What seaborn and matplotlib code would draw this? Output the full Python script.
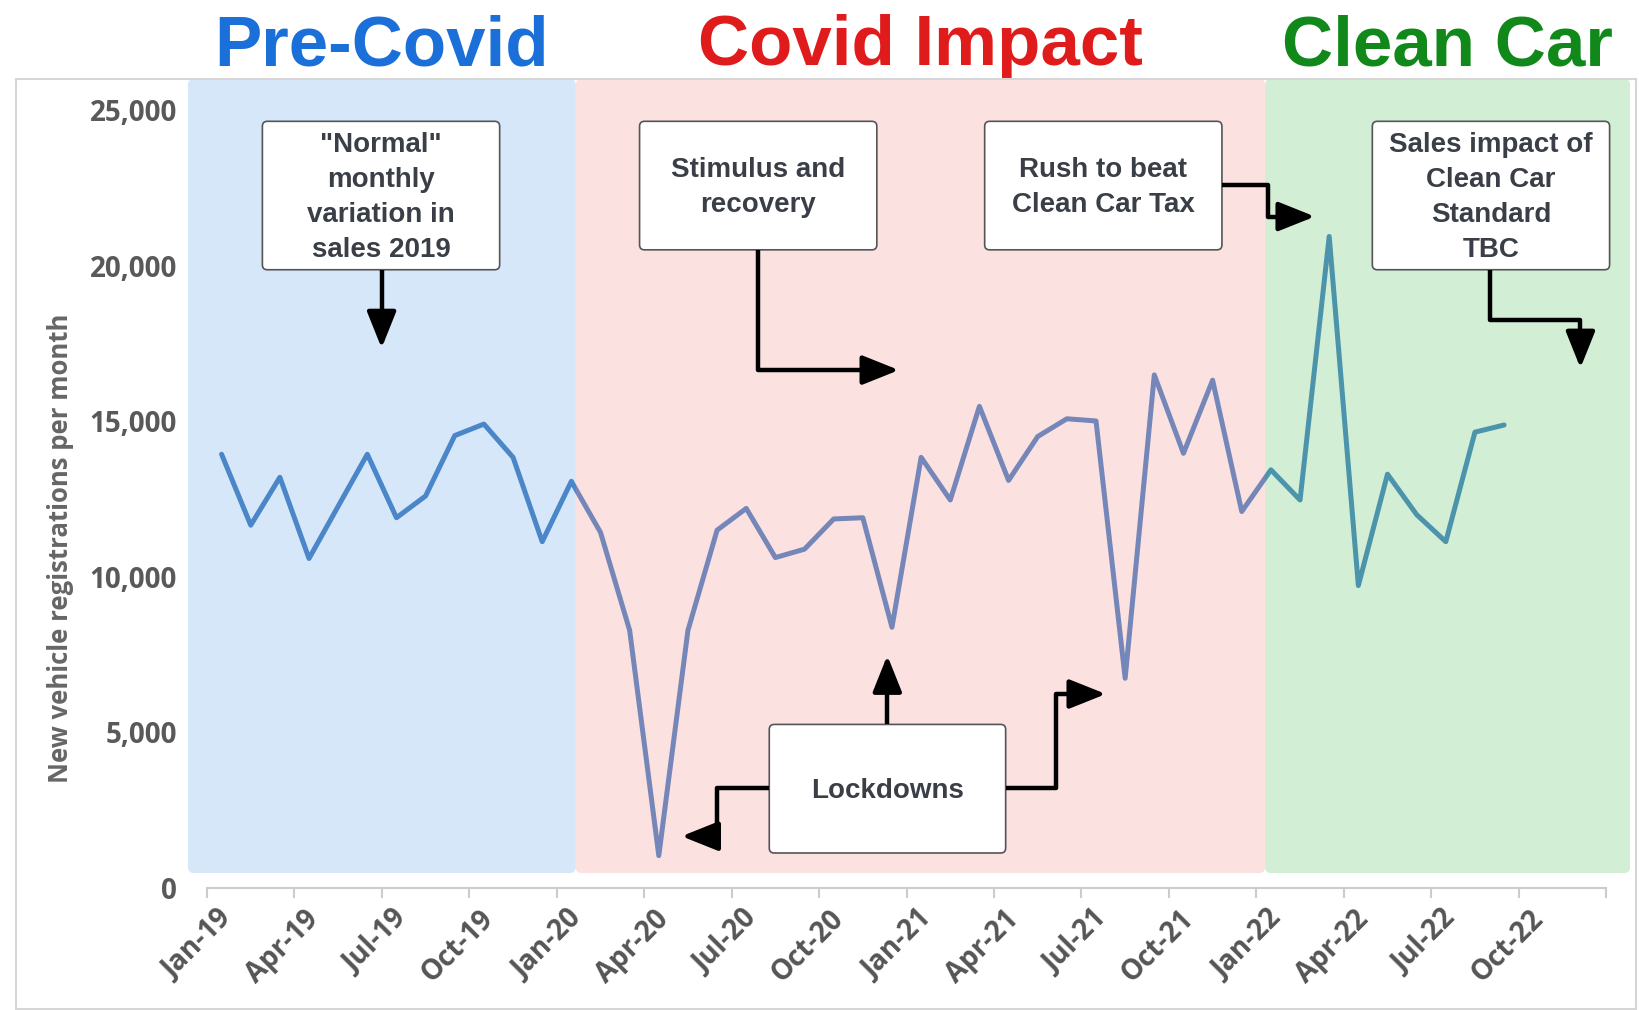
import numpy as np
import pandas as pd
import matplotlib.pyplot as plt
import matplotlib.transforms as mtransforms
from matplotlib.patches import FancyBboxPatch, FancyArrowPatch, Rectangle, ArrowStyle
from matplotlib.path import Path
import seaborn as sns

# monthly new vehicle registrations, Jan-19 .. Sep-22
months = pd.date_range("2019-01-01", periods=45, freq="MS")
registrations = [13940, 11660, 13200, 10590, 12270, 13940, 11900, 12600, 14540, 14910, 13840, 11130,
                 13070, 11430, 8280, 1040, 8280, 11500, 12200, 10620, 10890, 11860, 11900, 8380,
                 13840, 12470, 15480, 13100, 14510, 15080, 15010, 6740, 16490, 13970, 16320, 12100,
                 13440, 12470, 20940, 9720, 13300, 12000, 11130, 14650, 14880]
tick_labels = ["Jan-19", "Apr-19", "Jul-19", "Oct-19", "Jan-20", "Apr-20", "Jul-20", "Oct-20",
               "Jan-21", "Apr-21", "Jul-21", "Oct-21", "Jan-22", "Apr-22", "Jul-22", "Oct-22", ""]
y_ticks = [0, 5000, 10000, 15000, 20000, 25000]
periods = ["Pre-Covid", "Covid Impact", "Clean Car"]
notes = ['"Normal"\nmonthly\nvariation in\nsales 2019',
         "Stimulus and\nrecovery",
         "Rush to beat\nClean Car Tax",
         "Sales impact of\nClean Car\nStandard\nTBC",
         "Lockdowns"]

# layout (month units from Jan-19 tick, value units)
period_edges = [-0.652, 12.65, 36.3, 48.82]
period_fill = [("#d6e7f9", 1.0, 0), ("#f78b8b", 0.25, 3), ("#4fbf5b", 0.25, 3)]
title_colors = ["#1b6fd8", "#e01b1b", "#11891a"]
note_boxes = [(1.90, 10.04, 19870, 24640), (14.84, 22.98, 20510, 24640),
              (26.68, 34.82, 20510, 24640), (39.98, 48.12, 19870, 24640),
              (19.29, 27.40, 1125, 5257)]
arrow_paths = [
    [(5.99, 19870), (5.99, 17350)],
    [(18.90, 20510), (18.90, 16645), (23.74, 16645)],
    [(34.82, 22590), (36.40, 22590), (36.40, 21580), (38.01, 21580)],
    [(44.03, 19870), (44.03, 18255), (47.12, 18255), (47.12, 16710)],
    [(23.34, 5257), (23.34, 7474)],
    [(19.29, 3207), (17.50, 3207), (17.50, 1664), (16.28, 1664)],
    [(27.40, 3207), (29.12, 3207), (29.12, 6234), (30.84, 6234)],
]

df = pd.DataFrame({
    "month": months,
    "pos": np.arange(len(months)) + 0.5,
    "registrations": registrations,
})

sns.set_theme(style="white")
plt.rcParams["font.family"] = ["Liberation Sans", "DejaVu Sans"]

W, H = 1639, 1010
fig = plt.figure(figsize=(W / 100, H / 100), dpi=100)
ax = fig.add_axes([188 / W, 1 - 888 / H, 1442 / W, 809 / H])

sns.lineplot(data=df, x="pos", y="registrations", color="#4a86c8", linewidth=3.6,
             ax=ax, zorder=2)

ax.set_xlim(period_edges[0], period_edges[-1])
ax.set_ylim(0, 26000)
aspect = (29.15 / 1) / (155.6 / 5000)

# shaded period panels
for i, (fc, alpha, z) in enumerate(period_fill):
    x0, x1 = period_edges[i], period_edges[i + 1]
    ax.add_patch(FancyBboxPatch((x0, 480), x1 - x0, 26000 - 480,
                                boxstyle="round,pad=0,rounding_size=0.2",
                                mutation_aspect=aspect, facecolor=fc, alpha=alpha,
                                lw=0, zorder=z))

# titles above each period
blend = mtransforms.blended_transform_factory(ax.transData, fig.transFigure)
for i, name in enumerate(periods):
    xc = (period_edges[i] + period_edges[i + 1]) / 2
    ax.text(xc, 1 - 65 / H, name, transform=blend, ha="center", va="baseline",
            fontsize=51, fontweight="bold", color=title_colors[i])

# note boxes
for (x0, x1, y0, y1), txt in zip(note_boxes, notes):
    ax.add_patch(FancyBboxPatch((x0, y0), x1 - x0, y1 - y0,
                                boxstyle="round,pad=0,rounding_size=0.17",
                                mutation_aspect=aspect, facecolor="white",
                                edgecolor="#555555", lw=1.2, zorder=5))
    ax.text((x0 + x1) / 2, (y0 + y1) / 2 - 60, txt, ha="center", va="center",
            fontsize=20, fontweight="bold", color="#3a3f47", linespacing=1.45, zorder=6)

# elbow arrows
style = ArrowStyle("-|>", head_length=1.5, head_width=0.6)
for pts in arrow_paths:
    codes = [Path.MOVETO] + [Path.LINETO] * (len(pts) - 1)
    arr = FancyArrowPatch(path=Path(pts, codes), arrowstyle=style, mutation_scale=15,
                          color="black", lw=3.2, joinstyle="round", capstyle="butt",
                          shrinkA=0, shrinkB=0, zorder=6)
    ax.add_patch(arr)

# axes styling
for side in ["top", "right", "left"]:
    ax.spines[side].set_visible(False)
ax.spines["bottom"].set_color("#cccccc")
ax.spines["bottom"].set_linewidth(1.5)
ax.spines["bottom"].set_bounds(0, 48)

ax.set_xticks(np.arange(0, 49, 3))
ax.set_xticklabels(tick_labels)
ax.set_yticks(y_ticks)
ax.set_yticklabels([f"{v:,}" for v in y_ticks])
ax.tick_params(axis="x", bottom=True, direction="out", length=7, width=1.5,
               color="#cccccc", pad=5, labelsize=20, labelcolor="#555555")
ax.tick_params(axis="y", left=False, length=0, pad=8, labelsize=20, labelcolor="#595959")

offset = mtransforms.ScaledTranslation(0.10, 0, fig.dpi_scale_trans)
for lbl in ax.get_xticklabels():
    lbl.set_rotation(45)
    lbl.set_ha("right")
    lbl.set_rotation_mode("anchor")
    lbl.set_fontfamily("Open Sans")
    lbl.set_fontweight("bold")
    lbl.set_transform(lbl.get_transform() + offset)
for lbl in ax.get_yticklabels():
    lbl.set_fontfamily("Open Sans")
    lbl.set_fontweight("bold")

ax.set_xlabel("")
ax.set_ylabel("New vehicle registrations per month", fontsize=18.5, color="#666666",
              fontfamily="Open Sans", fontweight="bold")
ax.yaxis.set_label_coords(-0.079, 0.4197)

# outer chart frame
fig.add_artist(Rectangle((16 / W, 1 - 1009 / H), 1620 / W, 930 / H,
                         transform=fig.transFigure, fill=False,
                         edgecolor="#d6d6d6", lw=1.5))

fig.savefig("out.png", dpi=100)
